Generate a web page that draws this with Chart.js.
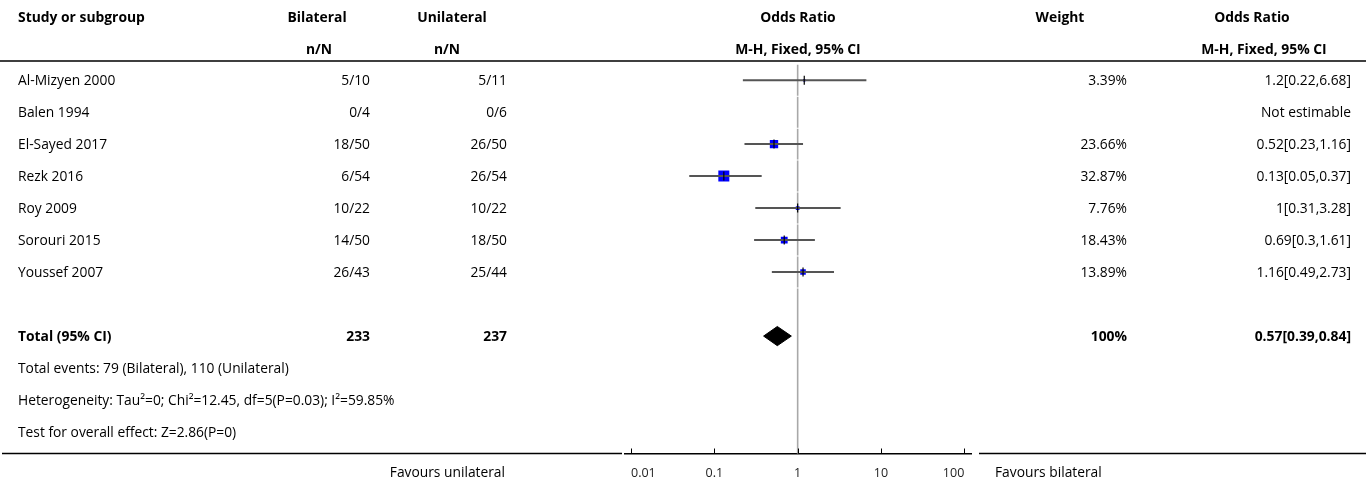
<!DOCTYPE html>
<html>
<head>
<meta charset="utf-8">
<script src="https://cdn.jsdelivr.net/npm/chart.js@4.4.1/dist/chart.umd.min.js"></script>
<style>
  html, body { margin: 0; padding: 0; background: #fff; }
  canvas { display: block; }
</style>
</head>
<body>
<canvas id="forest" width="1370" height="484"></canvas>
<script>
// --- DATA ---
const studies = ['Al-Mizyen 2000', 'Balen 1994', 'El-Sayed 2017', 'Rezk 2016', 'Roy 2009', 'Sorouri 2015', 'Youssef 2007'];
const bilateralEvents = ['5/10', '0/4', '18/50', '6/54', '10/22', '14/50', '26/43'];
const unilateralEvents = ['5/11', '0/6', '26/50', '26/54', '10/22', '18/50', '25/44'];
const oddsRatio = [1.2, null, 0.52, 0.13, 1, 0.69, 1.16];
const ciLow = [0.22, null, 0.23, 0.05, 0.31, 0.3, 0.49];
const ciHigh = [6.68, null, 1.16, 0.37, 3.28, 1.61, 2.73];
const weights = [3.39, null, 23.66, 32.87, 7.76, 18.43, 13.89];

const totalOR = [0.57, 0.39, 0.84];   // estimate, low, high
const totalN = [233, 237];            // bilateral, unilateral
const totalWeight = 100;

const axisTicks = [0.01, 0.1, 1, 10, 100];
const footnotes = [
    'Total events: 79 (Bilateral), 110 (Unilateral)',
    'Heterogeneity: Tau\u00B2=0; Chi\u00B2=12.45, df=5(P=0.03); I\u00B2=59.85%',
    'Test for overall effect: Z=2.86(P=0)'
];

// --- LAYOUT ---
const FONT = '"Open Sans", Lato, sans-serif';
const TOTAL_ROW = 8;
const maxWeight = Math.max(...weights.filter(w => w !== null));

// size the table fonts so the widest lines fill their columns
const measureCtx = document.createElement('canvas').getContext('2d');
function fitSize(str, bold, width) {
    measureCtx.font = (bold ? 'bold ' : '') + '100px ' + FONT;
    return 100 * width / measureCtx.measureText(str).width;
}
const SIZE = fitSize(footnotes[1], false, 377);
const SIZE_BOLD = fitSize('Study or subgroup', true, 127);

function fmt(v) { return String(v); }

function boxSide(w) {
    return 1.5 + 9.5 * w / maxWeight;
}

const studyIdx = oddsRatio.map((v, i) => i).filter(i => oddsRatio[i] !== null);

// one short line per study for its confidence interval
const ciDatasets = studyIdx.map(i => ({
    type: 'line',
    data: [{ x: ciLow[i], y: i }, { x: ciHigh[i], y: i }],
    borderColor: '#555',
    borderWidth: 2,
    pointRadius: 0,
    fill: false,
    order: 2
}));

const boxDataset = {
    type: 'scatter',
    data: studyIdx.map(i => ({ x: oddsRatio[i], y: i, w: weights[i] })),
    pointStyle: 'rect',
    pointRadius: ctx => boxSide(ctx.raw.w) / Math.SQRT2,
    backgroundColor: '#0000ff',
    borderWidth: 0,
    order: 3
};

const tickDataset = {
    type: 'scatter',
    data: studyIdx.map(i => ({ x: oddsRatio[i], y: i })),
    pointStyle: 'line',
    rotation: 90,
    pointRadius: 4.5,
    borderColor: '#000',
    borderWidth: 1.2,
    order: 1
};

const diamondHalf = 0.3;
const diamondDataset = {
    type: 'line',
    data: [
        { x: totalOR[1], y: TOTAL_ROW },
        { x: totalOR[0], y: TOTAL_ROW - diamondHalf },
        { x: totalOR[2], y: TOTAL_ROW },
        { x: totalOR[0], y: TOTAL_ROW + diamondHalf },
        { x: totalOR[1], y: TOTAL_ROW }
    ],
    borderColor: '#000',
    borderWidth: 1,
    backgroundColor: '#000',
    pointRadius: 0,
    fill: 'shape',
    order: 0
};

// vertical line of no effect, broken at each study row
const noEffectLine = {
    id: 'noEffectLine',
    beforeDatasetsDraw(chart) {
        const { ctx, chartArea, scales: { x, y } } = chart;
        const px = x.getPixelForValue(1);
        ctx.save();
        ctx.strokeStyle = '#a8a8a8';
        ctx.lineWidth = 1.6;
        ctx.beginPath();
        for (let i = 0; i < studies.length; i++) {
            ctx.moveTo(px, y.getPixelForValue(i - 0.5) + 0.5);
            ctx.lineTo(px, y.getPixelForValue(i + 0.5) - 0.5);
        }
        ctx.moveTo(px, y.getPixelForValue(studies.length - 0.5) + 0.5);
        ctx.lineTo(px, chartArea.bottom);
        ctx.stroke();
        ctx.restore();
    }
};

function drawText(ctx, str, x, y, align, bold) {
    ctx.font = bold ? 'bold ' + SIZE_BOLD + 'px ' + FONT : SIZE + 'px ' + FONT;
    ctx.textAlign = align;
    ctx.fillText(str, x, y + 1);
}

// table columns, rules and tick marks
const tablePlugin = {
    id: 'table',
    afterDraw(chart) {
        const { ctx, chartArea, scales: { x, y } } = chart;
        ctx.save();

        // rules
        ctx.strokeStyle = '#000';
        ctx.lineWidth = 1.5;
        ctx.beginPath();
        ctx.moveTo(0, 61); ctx.lineTo(1366, 61);
        ctx.moveTo(2, chartArea.bottom); ctx.lineTo(622, chartArea.bottom);
        ctx.moveTo(979, chartArea.bottom); ctx.lineTo(1366, chartArea.bottom);
        ctx.stroke();

        // tick marks point up into the plot
        ctx.lineWidth = 1;
        ctx.beginPath();
        axisTicks.forEach(v => {
            const px = Math.round(x.getPixelForValue(v)) + 0.5;
            ctx.moveTo(px, chartArea.bottom - 5);
            ctx.lineTo(px, chartArea.bottom);
        });
        ctx.stroke();

        ctx.fillStyle = '#000';
        ctx.textBaseline = 'middle';

        // header
        drawText(ctx, 'Study or subgroup', 18, 17, 'left', true);
        drawText(ctx, 'Bilateral', 317, 17, 'center', true);
        drawText(ctx, 'n/N', 319, 49, 'center', true);
        drawText(ctx, 'Unilateral', 452, 17, 'center', true);
        drawText(ctx, 'n/N', 447, 49, 'center', true);
        drawText(ctx, 'Odds Ratio', 798, 17, 'center', true);
        drawText(ctx, 'M-H, Fixed, 95% CI', 798, 49, 'center', true);
        drawText(ctx, 'Weight', 1060, 17, 'center', true);
        drawText(ctx, 'Odds Ratio', 1252, 17, 'center', true);
        drawText(ctx, 'M-H, Fixed, 95% CI', 1264, 49, 'center', true);

        // study rows
        studies.forEach((name, i) => {
            const py = y.getPixelForValue(i);
            drawText(ctx, name, 18, py, 'left', false);
            drawText(ctx, bilateralEvents[i], 370, py, 'right', false);
            drawText(ctx, unilateralEvents[i], 507, py, 'right', false);
            if (oddsRatio[i] === null) {
                drawText(ctx, 'Not estimable', 1351, py, 'right', false);
            } else {
                drawText(ctx, fmt(weights[i]) + '%', 1127, py, 'right', false);
                drawText(ctx, fmt(oddsRatio[i]) + '[' + fmt(ciLow[i]) + ',' + fmt(ciHigh[i]) + ']', 1351, py, 'right', false);
            }
        });

        // total row
        const ty = y.getPixelForValue(TOTAL_ROW);
        drawText(ctx, 'Total (95% CI)', 18, ty, 'left', true);
        drawText(ctx, fmt(totalN[0]), 370, ty, 'right', true);
        drawText(ctx, fmt(totalN[1]), 507, ty, 'right', true);
        drawText(ctx, totalWeight + '%', 1127, ty, 'right', true);
        drawText(ctx, fmt(totalOR[0]) + '[' + fmt(totalOR[1]) + ',' + fmt(totalOR[2]) + ']', 1351, ty, 'right', true);

        footnotes.forEach((line, k) => {
            drawText(ctx, line, 18, y.getPixelForValue(TOTAL_ROW + 1 + k), 'left', false);
        });

        // favours labels under the axis
        drawText(ctx, 'Favours unilateral', 505, 472, 'right', false);
        drawText(ctx, 'Favours bilateral', 995, 472, 'left', false);

        ctx.restore();
    }
};

const ctx = document.getElementById('forest').getContext('2d');
new Chart(ctx, {
    type: 'scatter',
    data: {
        datasets: [...ciDatasets, boxDataset, tickDataset, diamondDataset]
    },
    options: {
        responsive: false,
        animation: false,
        events: [],
        layout: { padding: { left: 625, right: 399, top: 63.5, bottom: 0 } },
        plugins: {
            legend: { display: false },
            tooltip: { enabled: false }
        },
        scales: {
            x: {
                type: 'logarithmic',
                min: 0.00847,
                max: 120.3,
                afterBuildTicks: scale => {
                    scale.ticks = axisTicks.map(v => ({ value: v }));
                },
                afterFit: scale => { scale.height = 30.5; },
                grid: { display: false },
                border: { display: true, color: '#000', width: 1.5 },
                ticks: {
                    align: 'inner',
                    autoSkip: false,
                    maxRotation: 0,
                    padding: 4,
                    color: '#222',
                    font: { family: FONT, size: 12.5 },
                    callback: v => String(v)
                }
            },
            y: {
                type: 'linear',
                display: false,
                reverse: true,
                min: -0.52,
                max: 11.67
            }
        }
    },
    plugins: [noEffectLine, tablePlugin]
});
</script>
</body>
</html>
